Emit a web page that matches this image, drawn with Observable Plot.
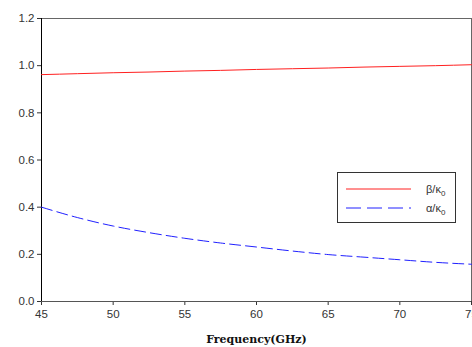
<!DOCTYPE html>
<html><head><meta charset="utf-8">
<script src="https://cdn.jsdelivr.net/npm/d3@7"></script>
<script src="https://cdn.jsdelivr.net/npm/@observablehq/plot@0.6"></script>
<style>
body{margin:0;background:#fff;}
#wrap{position:relative;width:472px;height:347px;font-family:Arial,"Liberation Sans",sans-serif;}
#legend{position:absolute;left:337px;top:172px;width:117px;height:49px;border:1px solid #333;background:#fff;font-size:11px;color:#333;}
</style>
</head><body>
<div id="wrap"><div id="chart"></div>
<div id="legend">
<svg width="117" height="49" style="position:absolute;left:0;top:0">
<line x1="8" x2="73" y1="16" y2="16" stroke="#ff2020" stroke-width="1"/>
<line x1="8" x2="73" y1="35" y2="35" stroke="#2020ff" stroke-width="1" stroke-dasharray="15,6"/>
<text x="88" y="20" font-size="11" fill="#333">β/κ<tspan font-size="8" dy="3">0</tspan></text>
<text x="88" y="39" font-size="11" fill="#333">α/κ<tspan font-size="8" dy="3">0</tspan></text>
</svg>
</div>
</div>
<script>
const freq = [45, 47.5, 50, 52.5, 55, 57.5, 60, 62.5, 65, 67.5, 70, 72.5, 75];
const beta = [0.962, 0.966, 0.970, 0.973, 0.977, 0.980, 0.984, 0.987, 0.990, 0.994, 0.997, 1.000, 1.004];
const alpha = [0.400, 0.356, 0.320, 0.292, 0.268, 0.248, 0.231, 0.214, 0.199, 0.188, 0.177, 0.166, 0.158];
const xTicks = [45, 50, 55, 60, 65, 70, 75];
const yTicks = [0, 0.2, 0.4, 0.6, 0.8, 1.0, 1.2];

const betaData = freq.map((f, i) => ({f, v: beta[i]}));
const alphaData = freq.map((f, i) => ({f, v: alpha[i]}));

const chart = Plot.plot({
  width: 472, height: 347,
  marginLeft: 41, marginRight: 1, marginTop: 18, marginBottom: 46,
  style: {fontFamily: "Arial, 'Liberation Sans', sans-serif", fontSize: "11.5px", color: "#333", background: "#fff"},
  x: {domain: [45, 75], ticks: xTicks, tickSize: 4, tickFormat: d => d, label: null},
  y: {domain: [0, 1.2], ticks: yTicks, tickSize: 4, tickFormat: d3.format(".1f"), label: null},
  marks: [
    Plot.ruleY([1.2], {stroke: "#666"}),
    Plot.ruleX([75], {stroke: "#666"}),
    Plot.axisX({ticks: xTicks, tickSize: 4, tickFormat: d => d, tickPadding: 4, stroke: "#333", label: null}),
    Plot.axisY({ticks: yTicks, tickSize: 4, tickFormat: d3.format(".1f"), tickPadding: 3, stroke: "#333", label: null}),
    Plot.ruleY([0], {stroke: "#555"}),
    Plot.ruleX([45], {stroke: "#000"}),
    Plot.line(betaData, {x: "f", y: "v", stroke: "#ff2020", strokeWidth: 1, curve: "monotone-x"}),
    Plot.line(alphaData, {x: "f", y: "v", stroke: "#2020ff", strokeWidth: 1, strokeDasharray: "11,5", curve: "monotone-x"}),
    Plot.text(["Frequency(GHz)"], {frameAnchor: "bottom", dy: 41, text: d => d, fontWeight: "bold", fontSize: 11, fontFamily: "'DejaVu Serif', serif", fill: "#111"})
  ]
});
document.getElementById("chart").appendChild(chart);
</script>
</body></html>
